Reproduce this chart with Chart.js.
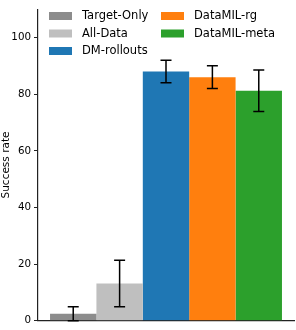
<!DOCTYPE html>
<html>
<head>
<meta charset="utf-8">
<script src="https://cdn.jsdelivr.net/npm/chart.js@4"></script>
<style>
  html, body { margin: 0; padding: 0; background: #fff; }
  #wrap { width: 296px; height: 330px; }
</style>
</head>
<body>
<div id="wrap"><canvas id="myChart"></canvas></div>
<script>
// methods, their success rates and the std shown as error bars
var methods = ['Target-Only', 'All-Data', 'DM-rollouts', 'DataMIL-rg', 'DataMIL-meta'];
var successRate = [2.5, 13.2, 88.0, 86.0, 81.2];
var errors = [2.5, 8.2, 4.0, 4.0, 7.3];
var colors = ['#8c8c8c', '#bfbfbf', '#1f77b4', '#ff7f0e', '#2ca02c'];
var yTicks = [0, 20, 40, 60, 80, 100];

var font = 'DejaVu Sans';

// error bars drawn on top of each bar
var errorBars = {
  id: 'errorBars',
  afterDatasetsDraw: function(chart) {
    var ctx = chart.ctx;
    var y = chart.scales.y;
    ctx.save();
    ctx.strokeStyle = '#000';
    ctx.lineWidth = 1.5;
    chart.data.datasets.forEach(function(ds, i) {
      var bar = chart.getDatasetMeta(i).data[0];
      var v = ds.data[0];
      var e = errors[i];
      var top = y.getPixelForValue(v + e);
      var bot = y.getPixelForValue(v - e);
      ctx.beginPath();
      ctx.moveTo(bar.x, top); ctx.lineTo(bar.x, bot);
      ctx.moveTo(bar.x - 5.5, top); ctx.lineTo(bar.x + 5.5, top);
      ctx.moveTo(bar.x - 5.5, bot); ctx.lineTo(bar.x + 5.5, bot);
      ctx.stroke();
    });
    ctx.restore();
  }
};

// two column legend, filled column by column like matplotlib
var colLegend = {
  id: 'colLegend',
  afterDraw: function(chart) {
    var ctx = chart.ctx;
    ctx.save();
    ctx.font = '11.5px "' + font + '"';
    ctx.textBaseline = 'middle';
    chart.data.datasets.forEach(function(ds, i) {
      var col = i < 3 ? 0 : 1;
      var row = i < 3 ? i : i - 3;
      var x = col === 0 ? 49 : 161;
      var yc = 16 + row * 17.5;
      ctx.fillStyle = ds.backgroundColor;
      ctx.fillRect(x, yc - 4, 23, 8);
      ctx.fillStyle = '#000';
      ctx.fillText(ds.label, x + 33, yc + 0.5);
    });
    ctx.restore();
  }
};

var ctx = document.getElementById('myChart');
var myChart = new Chart(ctx, {
  type: 'bar',
  data: {
    labels: [''],
    datasets: methods.map(function(m, i) {
      return {
        label: m,
        data: [successRate[i]],
        backgroundColor: colors[i],
        borderWidth: 0
      };
    })
  },
  options: {
    responsive: true,
    maintainAspectRatio: false,
    animation: false,
    layout: { padding: { top: 0, right: 2, bottom: 0, left: 0 } },
    plugins: {
      legend: { display: false },
      tooltip: { enabled: false }
    },
    datasets: {
      bar: { categoryPercentage: 0.906, barPercentage: 1.0 }
    },
    scales: {
      x: {
        ticks: { display: false },
        grid: { display: true, drawOnChartArea: false, drawTicks: false },
        border: { display: true, color: '#222', width: 1.2 },
        afterFit: function(scale) { scale.height = 6; }
      },
      y: {
        min: 0,
        max: 110,
        ticks: {
          stepSize: 20,
          color: '#000',
          padding: 3,
          font: { family: font, size: 10.3 }
        },
        afterBuildTicks: function(scale) {
          scale.ticks = yTicks.map(function(v) { return { value: v }; });
        },
        grid: { drawOnChartArea: false, drawTicks: true, tickLength: 4, color: '#222' },
        border: { display: true, color: '#222', width: 1.2 },
        title: {
          display: true,
          text: 'Success rate',
          color: '#000',
          padding: 0,
          font: { family: font, size: 10.5 }
        },
        afterFit: function(scale) { scale.width = 38; }
      }
    }
  },
  plugins: [errorBars, colLegend]
});
</script>
</body>
</html>
